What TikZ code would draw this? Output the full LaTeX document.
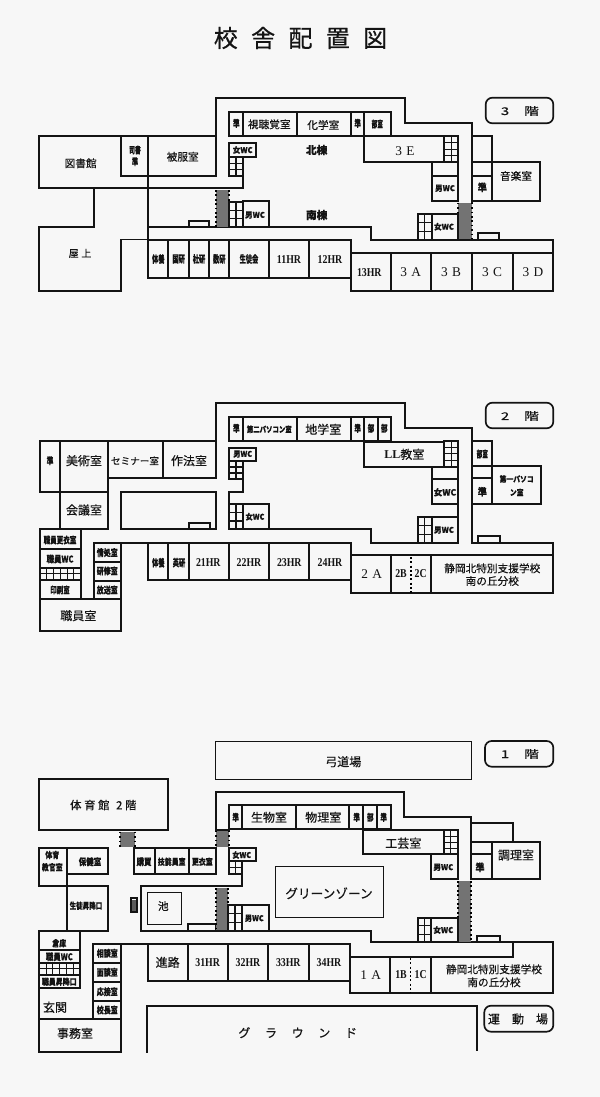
\documentclass[tikz,border=0pt]{standalone}
\usepackage{fontspec}
\usepackage{graphicx}
\setmainfont{Noto Sans CJK JP}[FakeBold=0.5]
\newfontfamily\latf{Liberation Serif}
\newcounter{lb}
\definecolor{paper}{HTML}{F7F7F7}
\definecolor{ink}{HTML}{141414}
\tikzset{
  wall/.style={draw=ink,line width=1.25pt,line cap=rect,line join=miter},
  thin wall/.style={draw=ink,line width=0.7pt},
  grid wall/.style={draw=ink,line width=0.8pt},
  labelnode/.style={inner sep=0pt,outer sep=0pt,text=ink},
}
% \lab{x}{y}{size pt}{x scale}{text}
\newcommand{\lab}[5]{\stepcounter{lb}\node[labelnode] (t\arabic{lb}) at (#1,#2) {\fontsize{#3}{#3}\selectfont\scalebox{#4}[1]{#5}};}
\newcommand{\labb}[5]{\stepcounter{lb}\node[labelnode] (t\arabic{lb}) at (#1,#2) {\fontsize{#3}{#3}\selectfont\bfseries\scalebox{#4}[1]{#5}};}
\newcommand{\hr}[3]{\stepcounter{lb}\node[labelnode] (t\arabic{lb}) at (#1,#2) {\fontsize{9}{9}\selectfont\latf\bfseries\scalebox{0.82}[1]{#3}};}
\newcommand{\lat}[3]{\stepcounter{lb}\node[labelnode] (t\arabic{lb}) at (#1,#2) {\fontsize{10}{10}\selectfont\latf #3};}
\newcommand{\rect}[4]{\draw[wall] (#1,#2) rectangle (#3,#4);}
% \stairs{x1}{y1}{x2}{y2}{cols}{rows}
\newcommand{\stairs}[6]{%
  \draw[wall] (#1,#2) rectangle (#3,#4);
  \foreach \i in {1,...,#5}{\draw[grid wall] ({#1+(#3-#1)*\i/#5},#2) -- ({#1+(#3-#1)*\i/#5},#4);}
  \foreach \i in {1,...,#6}{\draw[grid wall] (#1,{#2+(#4-#2)*\i/#6}) -- (#3,{#2+(#4-#2)*\i/#6});}
}
\newcommand{\bridge}[4]{%
  \fill[black!55] (#1,#2) rectangle (#3,#4);
  \draw[black,line width=1.4pt,dash pattern=on 1.3pt off 2pt] (#1,#2) -- (#1,#4);
  \draw[black,line width=1.4pt,dash pattern=on 1.3pt off 2pt] (#3,#2) -- (#3,#4);
}
\begin{document}
\begin{tikzpicture}[x=0.75pt,y=-0.75pt]
\fill[paper] (0,0) rectangle (600,1097);
\useasboundingbox (0,0) rectangle (600,1097);
\lab{300.5}{38}{18}{1}{校\hspace{10pt}舎\hspace{10pt}配\hspace{10pt}置\hspace{10pt}図}

%% ======= 3F =======
\draw[wall] (120.7,175.7) -- (120.7,136) (39.3,136) -- (215.7,136) -- (215.7,97.7) -- (405,97.7) -- (405,123.3) -- (471.7,123.3) -- (471.7,201.7);
\draw[wall] (120.7,175.7) -- (215.7,175.7) -- (215.7,136);
\draw[wall] (39.3,136) -- (39.3,188.3) -- (242.7,188.3) -- (242.7,175.7);
\draw[wall] (148.3,136) -- (148.3,278.3);
\draw[wall] (94,188.3) -- (94,226.7) -- (39.3,226.7) -- (39.3,291) -- (120.7,291) -- (120.7,239.5) -- (148.3,239.5);
\draw[wall] (148.3,227.3) -- (371,227.3) -- (371,240) -- (553.3,240) -- (553.3,291) -- (350.7,291) -- (350.7,240);
\draw[wall] (148.3,240) -- (350.7,240) (148.3,278.3) -- (350.7,278.3);
\foreach \x in {168.3,189,209.3,229.3,269.3,309.3}{\draw[wall] (\x,240) -- (\x,278.3);}
\draw[wall] (350.7,252.7) -- (553.3,252.7);
\foreach \x in {391,431,471.7,512.7}{\draw[wall] (\x,252.7) -- (\x,291);}
\rect{229.3}{111.7}{391}{135.7}
\foreach \x in {243,296.7,350.7,364}{\draw[wall] (\x,111.7) -- (\x,135.7);}
\rect{229.3}{142.7}{256}{156.7}
\stairs{229.3}{156.7}{242.7}{175.7}{2}{3}
\rect{189}{220.7}{209.3}{227.3}
\bridge{215.7}{190}{229.3}{227}
\stairs{229.3}{201.7}{242.7}{227.3}{2}{3}
\rect{242.7}{201}{269.3}{227.3}
\rect{364}{136}{444}{162.3}
\stairs{444}{136}{458.3}{162.3}{2}{4}
\draw[wall] (431.7,162.3) -- (431.7,201) -- (458.3,201) -- (458.3,162.3);
\draw[wall] (431.7,175.7) -- (458.3,175.7);
\rect{471.7}{136}{492.3}{201}
\draw[wall] (471.7,162.3) -- (492.3,162.3) (471.7,175.7) -- (492.3,175.7);
\rect{492.3}{162.3}{540}{201}
\bridge{458.3}{202.7}{471.7}{239}
\rect{431.7}{214.3}{458.3}{240}
\stairs{417.7}{214.3}{431.7}{240}{2}{3}
\rect{478.3}{232.7}{499.3}{240}
\draw[wall,rounded corners=5pt] (485.7,97.7) rectangle (553.3,123.3);
\lab{520}{111}{8}{1.4}{3\hspace{8pt}階}

\lab{80.7}{163.3}{8}{1}{図書館}
\labb{135}{150}{7}{.62}{司書}
\labb{135}{161.7}{7}{.65}{準}
\lab{182.7}{156.7}{8}{1}{被服室}
\lab{80}{253.3}{7.5}{1}{屋\hspace{2pt}上}
\labb{236.3}{123.3}{7}{.7}{準}
\lab{269.3}{124.3}{8}{1}{視聴覚室}
\lab{323.3}{125}{8}{1}{化学室}
\labb{357.7}{123.3}{7}{.7}{準}
\labb{377.3}{124}{7}{.6}{部室}
\labb{242.7}{150}{6}{.95}{女WC}
\labb{255}{215}{6}{.95}{男WC}
\labb{316.7}{150}{8}{1}{北棟}
\labb{316.7}{215}{8}{1}{南棟}
\labb{158.3}{259}{7.5}{.62}{体養}
\labb{178.7}{259}{7.5}{.62}{国研}
\labb{199}{259}{7.5}{.62}{社研}
\labb{219.3}{259}{7.5}{.62}{数研}
\labb{249}{259}{7.5}{.62}{生徒会}
\hr{289}{260}{11HR}
\hr{330}{260}{12HR}
\hr{369.3}{272.7}{13HR}
\lat{410.7}{271.7}{3\,\,A}
\lat{451}{271.7}{3\,\,B}
\lat{492}{271.7}{3\,\,C}
\lat{533}{271.7}{3\,\,D}
\lat{405}{150.7}{3\,\,E}
\lab{516}{176}{8}{1}{音楽室}
\labb{482.3}{187.3}{7.5}{.9}{準}
\labb{445}{188.3}{6}{.95}{男WC}
\labb{444}{226.7}{6}{.95}{女WC}

%% ======= 2F =======
\draw[wall] (40,441) -- (215.7,441) -- (215.7,402.7) -- (405,402.7) -- (405,428.3) -- (471.7,428.3) -- (471.7,542.7) -- (553.3,542.7) -- (553.3,593.3) -- (350.7,593.3) -- (350.7,542.7);
\draw[wall] (215.7,441) -- (215.7,478.3) -- (107.7,478.3);
\draw[wall] (40,441) -- (40,491.7) -- (107.7,491.7);
\draw[wall] (60,441) -- (60,529.3);
\draw[wall] (107.7,441) -- (107.7,529.3) -- (40,529.3) -- (40,631) -- (121,631) -- (121,599) -- (40,599);
\draw[wall] (162.7,441) -- (162.7,478.3);
\draw[wall] (120.7,529.3) -- (120.7,491.7) -- (215.7,491.7) -- (215.7,529.3) -- cycle;
\rect{189}{523.3}{210}{529.3}
\draw[wall] (80.7,529.3) -- (80.7,599) (40,549) -- (80.7,549) (40,567.7) -- (80.7,567.7);
\stairs{40}{567.7}{80.7}{580}{6}{2}
\draw[wall] (121,599) -- (121,542.7) -- (94,542.7) -- (94,599);
\draw[wall] (94,561.7) -- (121,561.7) (94,580.7) -- (121,580.7);
\draw[wall] (148.3,542.7) -- (148.3,580) -- (350.7,580);
\draw[wall] (121,542.7) -- (350.7,542.7);
\foreach \x in {168.3,189,229.3,269.3,309.3}{\draw[wall] (\x,542.7) -- (\x,580);}
\draw[wall] (350.7,555) -- (553.3,555);
\foreach \x in {391,431}{\draw[wall] (\x,555) -- (\x,593.3);}
\draw[black,line width=0.8pt,dash pattern=on 1.5pt off 1.7pt] (411,557) -- (411,593);
\rect{229.3}{416.7}{391}{440.7}
\foreach \x in {243,296.7,350.7,364,377.7}{\draw[wall] (\x,416.7) -- (\x,440.7);}
\rect{229.3}{447.7}{256}{461}
\stairs{229.3}{461}{242.7}{479}{2}{3}
\draw[wall] (242.7,479) -- (242.7,491.7) -- (229.3,491.7) -- (229.3,529.3) -- (371,529.3) -- (371,542.7) -- (458.3,542.7);
\stairs{229.3}{504.3}{242.7}{529.3}{2}{3}
\rect{242.7}{504.3}{269.3}{529.3}
\rect{364}{441.7}{444}{466.7}
\stairs{444}{441}{458.3}{466.7}{2}{4}
\draw[wall] (458.3,466.7) -- (458.3,542.7);
\draw[wall] (431.7,466.7) -- (431.7,504.3) -- (458.3,504.3) (431.7,479) -- (458.3,479);
\rect{431.7}{516.7}{458.3}{542.7}
\stairs{417.7}{516.7}{431.7}{542.7}{2}{3}
\rect{471.7}{441}{492.3}{504.3}
\draw[wall] (471.7,466) -- (492.3,466) (471.7,478.3) -- (492.3,478.3);
\rect{492.3}{466}{540.7}{504.3}
\rect{478.3}{535.7}{500}{542.7}
\draw[wall,rounded corners=5pt] (485.7,402.7) rectangle (553.3,428.3);
\lab{520}{416}{8}{1.4}{2\hspace{8pt}階}

\labb{50}{460.7}{7}{.7}{準}
\lab{84}{460.7}{9}{1}{美術室}
\lab{135}{460.7}{7.2}{1}{セミナー室}
\lab{189}{460.7}{9}{1}{作法室}
\lab{84}{510}{9}{1}{会議室}
\labb{236.3}{428.3}{7}{.7}{準}
\labb{269.3}{429.3}{6}{.8}{第二パソコン室}
\lab{323.3}{429.3}{9}{1}{地学室}
\labb{357.7}{428.3}{7}{.7}{準}
\labb{371}{428.3}{7}{.7}{部}
\labb{384.3}{428.3}{7}{.7}{部}
\labb{242.7}{454}{6}{.9}{男WC}
\labb{255}{516.7}{6}{.9}{女WC}
\lab{404.3}{454.3}{9}{1}{{\latf\bfseries LL}教室}
\labb{445}{492.3}{6.5}{1}{女WC}
\labb{444}{530}{6}{.95}{男WC}
\labb{482.3}{454}{7}{.6}{部室}
\labb{482.3}{491.7}{7.5}{.9}{準}
\labb{516.7}{479}{6}{.85}{第一パソコ}
\labb{516.7}{492.3}{6}{.85}{ン室}
\labb{158.3}{562.7}{7.5}{.62}{体養}
\labb{179}{562.7}{7.5}{.62}{英研}
\hr{208.3}{563}{21HR}
\hr{249}{563}{22HR}
\hr{289.3}{563}{23HR}
\hr{330}{563}{24HR}
\lat{371.7}{574}{2\,\,A}
\hr{401}{574}{2B}
\hr{420.7}{574}{2C}
\lab{492.3}{568.3}{8}{1}{静岡北特別支援学校}
\lab{492.3}{581}{8}{1}{南の丘分校}
\labb{60}{540}{7}{.7}{職員更衣室}
\labb{60}{559}{7}{.8}{職員WC}
\labb{60}{590}{7}{.7}{印刷室}
\lab{78.3}{615.7}{9}{1}{職員室}
\labb{107.3}{552.7}{7}{.75}{情処室}
\labb{107.3}{571}{7}{.75}{研修室}
\labb{107.3}{590}{7}{.75}{放送室}

%% ======= 1F =======
\draw[thin wall] (215.7,741.7) rectangle (471.7,779);
\draw[wall,rounded corners=5pt] (485,741) rectangle (553.3,766.7);
\lab{520}{754}{8}{1.4}{1\hspace{8pt}階}
\rect{39.3}{779}{168.3}{830}
\bridge{120}{831.7}{135}{847.3}
\bridge{215.7}{830.7}{229.3}{847.3}
\draw[wall] (229.3,830) -- (215.7,830) -- (215.7,791.7) -- (404.3,791.7) -- (404.3,816.7) -- (471,816.7) -- (471,879.3);
\rect{229.3}{805}{390.7}{829.3}
\foreach \x in {241.7,296,349.3,362.7,377.3}{\draw[wall] (\x,805) -- (\x,829.3);}
\draw[wall] (39.3,848.3) -- (107.7,848.3) -- (107.7,874.3) -- (66.7,874.3);
\draw[wall] (39.3,848.3) -- (39.3,886) -- (107.7,886) -- (107.7,930.7) -- (39.3,930.7) -- (39.3,1051.7) -- (120.7,1051.7) -- (120.7,943.7);
\draw[wall] (66.7,848.3) -- (66.7,930.7);
\rect{134}{848.3}{215.7}{874.3}
\foreach \x in {155,189}{\draw[wall] (\x,848.3) -- (\x,874.3);}
\rect{229.3}{848.3}{256}{860.7}
\stairs{229.3}{860.7}{241.7}{874.3}{2}{2}
\draw[wall] (241.7,874.3) -- (241.7,886) -- (140.7,886) -- (140.7,930.7) -- (371,930.7) -- (371,942.3) -- (553.3,942.3) -- (553.3,993.3) -- (350,993.3) -- (350,943.7);
\rect{131}{898.3}{136.7}{912.3}
\fill[ink!70] (132,900) rectangle (135.7,911);
\draw[thin wall] (147.3,892.7) rectangle (181.7,924.3);
\rect{188.3}{924}{215.7}{930.7}
\bridge{215.7}{888}{228.3}{930}
\stairs{228.3}{905}{241.7}{930.7}{2}{3}
\rect{241.7}{905}{269}{930.7}
\draw[thin wall] (275,866.7) rectangle (383.3,917.3);
\draw[wall] (39.3,950) -- (80,950) (39.3,962.7) -- (80,962.7) (39.3,988.3) -- (80,988.3) -- (80,930.7);
\stairs{39.3}{962.7}{80}{975}{6}{2}
\draw[wall] (39.3,1019.3) -- (120.7,1019.3);
\draw[wall] (92.7,1019.3) -- (92.7,943.7) -- (350,943.7);
\draw[wall] (92.7,962.7) -- (120.7,962.7) (92.7,981.7) -- (120.7,981.7) (92.7,1001) -- (120.7,1001);
\draw[wall] (147.7,943.7) -- (147.7,981) -- (350,981);
\foreach \x in {188.3,228.3,268.3,309.3}{\draw[wall] (\x,943.7) -- (\x,981);}
\draw[wall] (147.3,1051.7) -- (147.3,1006) -- (477.3,1006) -- (477.3,1050);
\draw[wall] (350,956.7) -- (512.7,956.7) -- (512.7,942.3);
\foreach \x in {390,431}{\draw[wall] (\x,956.7) -- (\x,993.3);}
\draw[black,line width=0.8pt,dash pattern=on 1.5pt off 1.7pt] (410.7,958) -- (410.7,993);
\rect{363.3}{830}{444}{854.3}
\stairs{444}{830}{457.7}{854.3}{2}{4}
\draw[wall] (457.7,854.3) -- (457.7,879.3) -- (430.7,879.3) -- (430.7,854.3);
\bridge{457.7}{881}{471}{941.7}
\rect{431}{917.7}{457.7}{942.3}
\stairs{417.7}{917.7}{431}{942.3}{2}{3}
\rect{477.3}{936}{500}{942.3}
\draw[wall] (471,823.3) -- (512.7,823.3) -- (512.7,841.7);
\draw[wall] (471,841.7) -- (540,841.7) -- (540,879.3) -- (471,879.3);
\draw[wall] (491.7,841.7) -- (491.7,879.3) (471,854.3) -- (491.7,854.3);
\draw[wall,rounded corners=5pt] (484.3,1005.7) rectangle (553.3,1031.7);

\lab{103.3}{805}{8.5}{1}{体\hspace{2pt}育\hspace{2pt}館\hspace{5pt}2\hspace{2pt}階}
\labb{52.3}{855}{6.5}{.8}{体育}
\labb{52.3}{867.3}{6.5}{.8}{教官室}
\labb{90}{861.7}{7}{.8}{保健室}
\labb{144}{861.7}{7}{.8}{購買}
\labb{171.7}{861.7}{6.5}{.8}{技能員室}
\labb{202.3}{861.7}{6.5}{.8}{更衣室}
\labb{241.7}{855}{6}{.9}{女WC}
\labb{254.3}{918.3}{6}{.9}{男WC}
\labb{86}{905.7}{6.5}{.75}{生徒昇降口}
\lab{163.3}{906}{8}{1}{池}
\labb{59.3}{943.3}{6.5}{.8}{倉庫}
\labb{59.3}{956.7}{7}{.8}{職員WC}
\labb{59.3}{981.7}{6.5}{.8}{職員昇降口}
\lab{55}{1007.3}{9}{1}{玄関}
\lab{75}{1033.3}{9}{1}{事務室}
\labb{107.3}{953.3}{7}{.75}{相談室}
\labb{107.3}{972.3}{7}{.75}{面談室}
\labb{107.3}{991.7}{7}{.75}{応接室}
\labb{107.3}{1010}{7}{.75}{校長室}
\lab{167.7}{962.3}{9}{1}{進路}
\hr{207.7}{962.3}{31HR}
\hr{248}{962.3}{32HR}
\hr{288.3}{962.3}{33HR}
\hr{329}{962.3}{34HR}
\labb{235.7}{817.3}{7}{.7}{準}
\lab{269}{817.3}{9}{1}{生物室}
\lab{323.3}{817.3}{9}{1}{物理室}
\labb{356.7}{817.3}{7}{.7}{準}
\labb{370.3}{817.3}{7}{.7}{部}
\labb{383.7}{817.3}{7}{.7}{準}
\lab{403.3}{843.3}{9}{1}{工芸室}
\labb{443.3}{867.3}{6}{.95}{男WC}
\labb{480}{867.3}{7.5}{.9}{準}
\lab{516}{855}{9}{1}{調理室}
\labb{443.3}{930}{6}{.95}{女WC}
\lab{329}{893.3}{9.5}{1}{グリーンゾーン}
\lab{343.3}{761.7}{9}{1}{弓道場}
\lat{370.7}{975}{1\,\,A}
\hr{401}{975}{1B}
\hr{420.7}{975}{1C}
\lab{494}{969.3}{8}{1}{静岡北特別支援学校}
\lab{494}{982.3}{8}{1}{南の丘分校}
\lab{297.7}{1032.7}{9}{1}{グ\hspace{11pt}ラ\hspace{11pt}ウ\hspace{11pt}ン\hspace{11pt}ド}
\lab{518}{1019}{9}{1}{運\hspace{9pt}動\hspace{9pt}場}
\end{tikzpicture}
\end{document}
